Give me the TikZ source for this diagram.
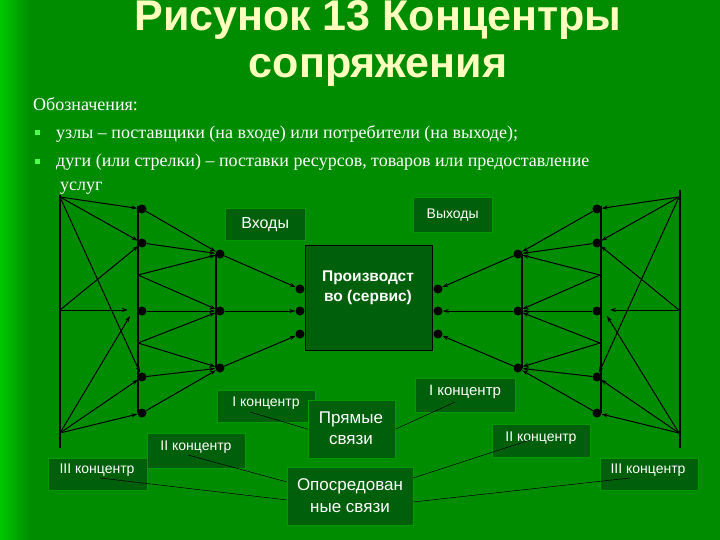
\documentclass[tikz,border=0pt]{standalone}
\usepackage{fontspec}
\setmainfont{Liberation Serif}
\newfontfamily\sansf{Liberation Sans}
\usetikzlibrary{arrows.meta}
\definecolor{bg}{RGB}{0,140,0}
\definecolor{bgl}{RGB}{0,200,0}
\definecolor{boxc}{RGB}{0,95,10}
\definecolor{titc}{RGB}{255,255,190}
\newcommand{\bulsq}{\textcolor{green!70}{\rule[3pt]{5pt}{5pt}}}
\tikzset{
 lab/.style={draw=green!60!black,fill=boxc,text=white,inner sep=0pt,anchor=north west},
 lt/.style={text=white,font=\sansf\fontsize{14}{16}\selectfont},
 dotn/.style={circle,fill=black,inner sep=0pt,minimum size=9pt},
 arr/.style={-{Stealth[length=6pt,width=4pt]},line width=1pt,black},
 vl/.style={line width=1.5pt,black},
 thin/.style={black,line width=0.5pt}
}
\begin{document}
\begin{tikzpicture}[x=1pt,y=-1pt]
\useasboundingbox (0,0) rectangle (720,540);
\fill[bg] (0,0) rectangle (720,540);
\shade[left color=bgl,right color=bg] (0,0) rectangle (30,540);
\node[text=titc,font=\sansf\bfseries\fontsize{43}{47}\selectfont,align=center] (title) at (378,43) {Рисунок 13 Концентры\\сопряжения};
\node[text=white,anchor=west,font=\fontsize{18}{20}\selectfont,inner sep=0pt] (t1) at (33,104) {Обозначения:};
\node[text=white,anchor=west,font=\fontsize{18}{20}\selectfont,inner sep=0pt] (t2) at (35,134) {\bulsq\hspace{16pt}узлы – поставщики (на входе) или потребители (на выходе);};
\node[text=white,anchor=north west,font=\fontsize{18}{24}\selectfont,text width=652pt,align=justify,inner sep=0pt] (t3) at (35,154) {\bulsq\hspace{16pt}дуги (или стрелки) – поставки ресурсов, товаров или предоставление\\ \hspace*{25pt}услуг};
% boxes
\node[lab,minimum width=80pt,minimum height=32pt] (vh) at (225,208) {};
\node[lt,font=\sansf\fontsize{16}{18}\selectfont] at (vh.center) {Входы};
\node[lab,minimum width=79pt,minimum height=35pt] (vyh) at (413,197) {};
\node[lt] at (vyh.center) {Выходы};
\node[lab,minimum width=127pt,minimum height=105pt,draw=black,line width=1pt] (prod) at (305,245) {};
\node[font=\sansf\bfseries\fontsize{15.5}{20}\selectfont,text=white,align=center,anchor=north] at (368,267) {Производст\\во (сервис)};
% network left
\coordinate (A1) at (60,197); \coordinate (A2) at (60,310); \coordinate (A3) at (60,433);
\node[dotn] (B1) at (142,209) {}; \node[dotn] (B2) at (142,243) {}; \node[dotn] (B3) at (142,311) {};
\node[dotn] (B4) at (142,377) {}; \node[dotn] (B5) at (142,413) {};
\coordinate (Bx) at (138,275); \coordinate (By) at (138,343);
\node[dotn] (C1) at (220,254) {}; \node[dotn] (C2) at (220,311) {}; \node[dotn] (C3) at (220,368) {};
\node[dotn] (P1) at (300,289) {}; \node[dotn] (P2) at (300,311) {}; \node[dotn] (P3) at (300,334) {};
\draw[vl] (60,195) -- (60,448); \draw[vl] (138,206) -- (138,413); \draw[vl] (216,254) -- (216,368);
\draw[arr] (A1) -- (B1); \draw[arr] (A1) -- (B2); \draw[arr] (A1) -- (B4);
\draw[arr] (A2) -- (B2); \draw[arr] (A2) -- (128,310);
\draw[arr] (A3) -- (130,316); \draw[arr] (A3) -- (B4); \draw[arr] (A3) -- (B5);
\draw[arr] (B1) -- (C1); \draw[arr] (B2) -- (C1); \draw[arr] (Bx) -- (C1); \draw[arr] (Bx) -- (C2);
\draw[arr] (B3) -- (C2); \draw[arr] (By) -- (C2); \draw[arr] (By) -- (C3);
\draw[arr] (B4) -- (C3); \draw[arr] (B5) -- (C3);
\draw[arr] (C1) -- (P1); \draw[arr] (C2) -- (P2); \draw[arr] (C3) -- (P3);
% network right
\coordinate (RA1) at (679,197); \coordinate (RA2) at (679,310); \coordinate (RA3) at (679,433);
\node[dotn] (RB1) at (597,209) {}; \node[dotn] (RB2) at (597,243) {}; \node[dotn] (RB3) at (597,311) {};
\node[dotn] (RB4) at (597,377) {}; \node[dotn] (RB5) at (597,413) {};
\coordinate (RBx) at (600,275); \coordinate (RBy) at (600,343);
\node[dotn] (RC1) at (518,254) {}; \node[dotn] (RC2) at (518,311) {}; \node[dotn] (RC3) at (518,368) {};
\node[dotn] (RP1) at (438,289) {}; \node[dotn] (RP2) at (438,311) {}; \node[dotn] (RP3) at (438,334) {};
\draw[vl] (680,190) -- (680,448); \draw[vl] (601,206) -- (601,413); \draw[vl] (522,254) -- (522,368);
\draw[arr] (RA1) -- (RB1); \draw[arr] (RA1) -- (RB2); \draw[arr] (RA1) -- (RB4);
\draw[arr] (RA2) -- (RB2); \draw[arr] (RA2) -- (610,310);
\draw[arr] (RA3) -- (607,316); \draw[arr] (RA3) -- (RB4); \draw[arr] (RA3) -- (RB5);
\draw[arr] (RB1) -- (RC1); \draw[arr] (RB2) -- (RC1); \draw[arr] (RBx) -- (RC1); \draw[arr] (RBx) -- (RC2);
\draw[arr] (RB3) -- (RC2); \draw[arr] (RBy) -- (RC2); \draw[arr] (RBy) -- (RC3);
\draw[arr] (RB4) -- (RC3); \draw[arr] (RB5) -- (RC3);
\draw[arr] (RC1) -- (RP1); \draw[arr] (RC2) -- (RP2); \draw[arr] (RC3) -- (RP3);
% labels
\node[lab,minimum width=98pt,minimum height=32pt] (k1l) at (217,390) {};
\node[lt] at (266,403) {I концентр};
\node[lab,minimum width=100pt,minimum height=34pt] (k1r) at (415,378) {};
\node[lt,font=\sansf\fontsize{15}{17}\selectfont] at (465,392) {I концентр};
\node[lab,minimum width=98pt,minimum height=35pt] (k2l) at (147,433) {};
\node[lt] at (196,447) {II концентр};
\node[lab,minimum width=98pt,minimum height=33pt] (k2r) at (492,424) {};
\node[lt] at (541,438) {II концентр};
\node[lab,minimum width=99pt,minimum height=32pt] (k3l) at (48,458) {};
\node[lt] at (97,470) {III концентр};
\node[lab,minimum width=98pt,minimum height=32pt] (k3r) at (600,458) {};
\node[lt] at (648,470) {III концентр};
\node[lab,minimum width=87pt,minimum height=58pt] (pr) at (308,400) {};
\node[text=white,font=\sansf\fontsize{17}{21}\selectfont,align=center] at (351,428) {Прямые\\связи};
\node[lab,minimum width=126pt,minimum height=58pt] (op) at (287,467) {};
\node[text=white,font=\sansf\fontsize{17}{22}\selectfont,align=center] at (350,496) {Опосредован\\ные связи};
\coordinate (c1) at (250,412); \coordinate (c2) at (455,402); \coordinate (c3) at (188,455);
\coordinate (c4) at (100,478); \coordinate (c5) at (530,440); \coordinate (c6) at (630,478);
\draw[thin] (c1) -- (pr.west); \draw[thin] (c2) -- (pr.east);
\draw[thin] (c3) -- (287,482); \draw[thin] (c4) -- (287,500);
\draw[thin] (c5) -- (413,478); \draw[thin] (c6) -- (413,502);
\end{tikzpicture}
\end{document}
